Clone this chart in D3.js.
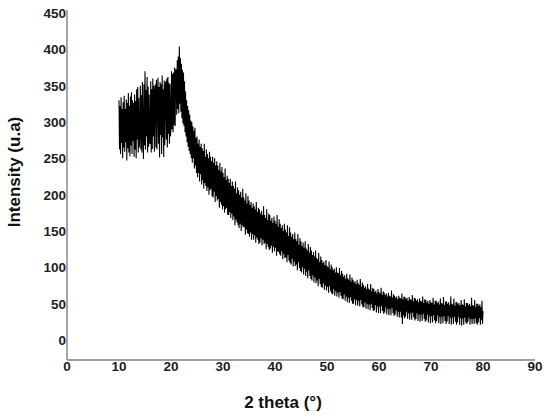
<!DOCTYPE html>
<html>
<head>
<meta charset="utf-8">
<script src="https://cdn.jsdelivr.net/npm/d3@7"></script>
<style>
  html, body { margin: 0; padding: 0; background: #fff; }
  svg { display: block; font-family: "Liberation Sans", Arial, sans-serif; }
</style>
</head>
<body>
<svg id="chart" width="550" height="417"></svg>
<script>
// ---- data ----
const xTicks = [0, 10, 20, 30, 40, 50, 60, 70, 80, 90];
const yTicks = [0, 50, 100, 150, 200, 250, 300, 350, 400, 450];
const angleStart = 10;   // degrees 2θ
const angleStep = 0.1;
const intensity = [
  330,262,322,256,334,271,318,250,327,265,
  336,259,318,272,331,247,326,264,340,258,
  322,253,335,268,341,256,330,274,326,252,
  338,262,329,250,345,276,348,258,333,265,
  283,350,262,337,258,355,286,249,352,268,
  370,262,344,280,362,258,349,266,338,272,
  270,356,258,345,263,360,280,350,259,342,
  352,265,358,262,340,361,270,348,251,355,
  282,352,256,364,279,345,252,357,268,347,
  356,276,360,265,362,284,354,270,352,280,
  292,370,290,366,286,368,296,375,294,372,
  372,310,385,318,390,312,404,325,388,314,
  380,305,372,298,368,295,356,286,342,280,
  330,272,322,266,316,260,310,256,302,250,
  300,244,294,250,288,236,292,240,278,230,
  280,224,270,230,276,218,266,228,270,214,
  264,220,260,208,270,216,252,212,262,205,
  256,210,250,200,259,206,252,208,246,198,
  252,196,244,204,250,190,240,198,246,192,
  240,194,234,182,244,190,232,186,238,180,
  230,184,224,175,236,180,220,182,226,172,
  222,172,216,176,222,168,212,174,218,165,
  212,170,208,158,218,166,202,162,210,158,
  206,154,200,160,204,150,196,158,208,155,
  196,156,192,145,202,152,188,147,198,146,
  192,142,186,148,190,138,182,146,188,138,
  184,144,180,134,190,141,176,138,182,132,
  180,134,174,140,178,130,172,138,184,132,
  172,134,168,125,180,132,165,128,174,124,
  172,126,164,130,168,120,161,128,170,122,
  164,127,160,116,172,122,156,121,166,118,
  160,116,154,122,158,111,150,118,160,113,
  152,114,148,107,158,117,143,109,155,106,
  148,104,142,112,146,101,139,108,148,102,
  139,104,136,96,146,107,131,99,140,95,
  136,93,129,100,134,90,127,98,136,88,
  126,94,123,85,132,96,120,88,128,84,
  123,82,117,89,121,79,115,86,123,78,
  113,82,111,74,120,84,107,77,115,73,
  110,72,106,78,108,69,103,75,110,68,
  102,73,100,65,108,74,97,67,104,64,
  100,63,96,70,98,61,93,67,100,60,
  93,65,92,58,99,66,89,61,95,57,
  91,56,87,63,89,54,84,60,91,52,
  85,58,83,51,90,59,80,54,86,50,
  83,50,79,56,81,48,77,55,83,47,
  78,54,76,46,84,55,73,49,79,45,
  76,45,72,52,74,43,70,50,77,42,
  71,49,69,41,77,50,67,44,72,40,
  70,41,66,48,68,38,64,46,70,37,
  66,46,64,37,72,47,62,40,67,36,
  65,38,62,45,64,35,60,43,65,34,
  61,43,60,34,68,44,58,37,63,33,
  61,35,58,41,60,32,56,39,61,31,
  58,39,57,31,64,22,56,34,60,30,
  59,32,56,39,58,29,54,37,59,28,
  56,37,55,28,62,38,53,31,58,27,
  57,29,54,37,56,26,52,35,57,25,
  54,35,53,26,60,36,51,29,56,25,
  55,27,52,35,54,24,50,33,55,23,
  52,33,51,24,58,34,49,27,54,23,
  54,26,51,34,53,23,49,32,57,22,
  51,32,50,23,59,33,48,26,53,22,
  53,25,50,33,52,22,48,31,60,21,
  50,31,49,22,57,32,47,25,52,21,
  52,24,49,32,51,21,47,30,55,20,
  49,30,48,21,56,31,46,24,51,22,
  51,25,48,31,50,21,46,29,58,22,
  48,29,47,22,55,30,45,23,50,21,
  50,24,47,30,49,21,45,28,54,22,
  40
];
const xTitle = "2 theta (°)";
const yTitle = "Intensity (u.a)";

// ---- layout ----
const svg = d3.select("#chart");
const axisX0 = 67, axisY0 = 360, axisTop = 10;

const x = d3.scaleLinear().domain([0, 90]).range([67, 535]);
const y = d3.scaleLinear().domain([0, 450]).range([340, 13]);

const points = intensity.map((v, i) => [angleStart + i * angleStep, v]);

// data line
svg.append("path")
  .datum(points)
  .attr("fill", "none")
  .attr("stroke", "#000")
  .attr("stroke-width", 1.1)
  .attr("stroke-linejoin", "miter")
  .attr("d", d3.line().x(d => x(d[0])).y(d => y(d[1])));

// axes lines
svg.append("line")
  .attr("x1", axisX0).attr("x2", axisX0)
  .attr("y1", axisTop).attr("y2", axisY0)
  .attr("stroke", "#808080").attr("stroke-width", 1.4);
svg.append("line")
  .attr("x1", axisX0).attr("x2", x(90))
  .attr("y1", axisY0).attr("y2", axisY0)
  .attr("stroke", "#808080").attr("stroke-width", 1.4);

// tick labels
svg.selectAll("text.ytick")
  .data(yTicks).enter().append("text")
  .attr("class", "ytick")
  .attr("x", 66)
  .attr("y", d => y(d) + 5)
  .attr("text-anchor", "end")
  .attr("font-size", 13.5)
  .attr("font-weight", "bold")
  .attr("fill", "#1e1e1e")
  .text(d => d);

svg.selectAll("text.xtick")
  .data(xTicks).enter().append("text")
  .attr("class", "xtick")
  .attr("x", d => x(d))
  .attr("y", 370.5)
  .attr("text-anchor", "middle")
  .attr("font-size", 13.5)
  .attr("font-weight", "bold")
  .attr("fill", "#1e1e1e")
  .text(d => d);

// titles
svg.append("text")
  .attr("x", 283).attr("y", 408)
  .attr("text-anchor", "middle")
  .attr("font-size", 17)
  .attr("font-weight", "bold")
  .attr("fill", "#111")
  .text(xTitle);

svg.append("text")
  .attr("transform", "translate(20,172) rotate(-90)")
  .attr("text-anchor", "middle")
  .attr("font-size", 17)
  .attr("font-weight", "bold")
  .attr("fill", "#111")
  .text(yTitle);
</script>
</body>
</html>
